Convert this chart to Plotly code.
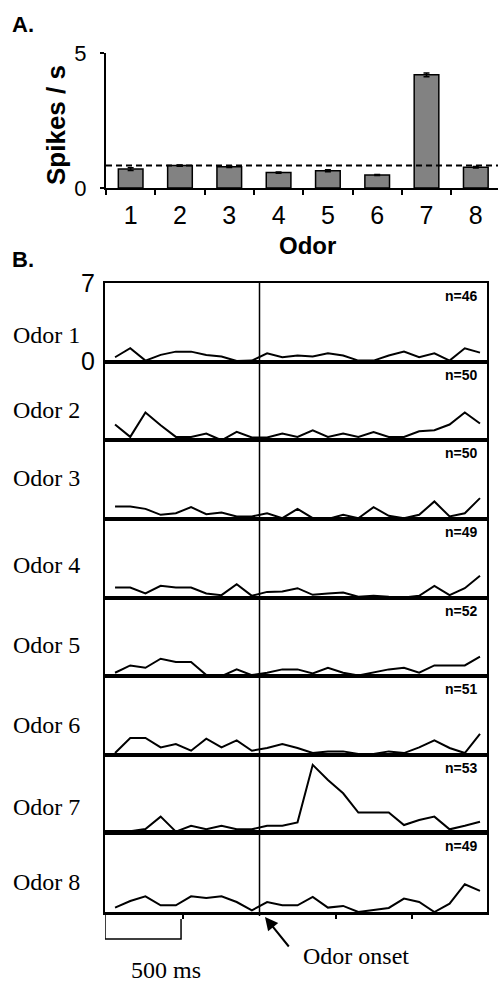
import plotly.graph_objects as go

# ---------------- data ----------------
odor_ids = [1, 2, 3, 4, 5, 6, 7, 8]
odor_tick_labels = ["1", "2", "3", "4", "5", "6", "7", "8"]
mean_rates = [0.70, 0.83, 0.79, 0.57, 0.64, 0.48, 4.19, 0.77]
sem_rates = [0.05, 0.02, 0.03, 0.02, 0.04, 0.02, 0.07, 0.03]
baseline_rate = 0.83

n_trials = [46, 50, 50, 49, 52, 51, 53, 49]
odor_names = ["Odor 1", "Odor 2", "Odor 3", "Odor 4", "Odor 5", "Odor 6", "Odor 7", "Odor 8"]

bin_centers_ms = [-950, -850, -750, -650, -550, -450, -350, -250, -150, -50,
                  50, 150, 250, 350, 450, 550, 650, 750, 850, 950,
                  1050, 1150, 1250, 1350, 1450]

psth1 = [0.39, 1.19, 0.09, 0.60, 0.89, 0.89, 0.60, 0.45, 0.06, 0.09, 0.74, 0.39, 0.54, 0.45, 0.74, 0.54, 0.09, 0.09, 0.54, 0.89, 0.39, 0.74, 0.09, 1.19, 0.80]
psth2 = [1.40, 0.30, 2.47, 1.34, 0.30, 0.30, 0.60, 0.00, 0.74, 0.24, 0.24, 0.60, 0.30, 0.89, 0.30, 0.60, 0.30, 0.74, 0.30, 0.30, 0.80, 0.89, 1.40, 2.47, 1.49]
psth3 = [1.10, 1.10, 0.89, 0.36, 0.50, 1.04, 0.42, 0.57, 0.21, 0.21, 0.50, 0.06, 0.89, 0.06, 0.00, 0.36, 0.06, 1.04, 0.27, 0.06, 0.36, 1.55, 0.21, 0.50, 1.85]
psth4 = [0.89, 0.89, 0.36, 1.04, 0.89, 0.89, 0.36, 0.21, 1.19, 0.15, 0.50, 0.54, 0.83, 0.24, 0.36, 0.45, 0.06, 0.15, 0.06, 0.00, 0.15, 1.04, 0.21, 0.83, 1.93]
psth5 = [0.30, 0.95, 0.74, 1.55, 1.25, 1.25, 0.09, 0.00, 0.60, 0.09, 0.30, 0.60, 0.60, 0.24, 0.74, 0.30, 0.06, 0.30, 0.60, 0.74, 0.30, 0.95, 0.95, 0.95, 1.73]
psth6 = [0.15, 1.49, 1.49, 0.65, 0.95, 0.36, 1.43, 0.65, 1.28, 0.36, 0.60, 0.95, 0.60, 0.15, 0.30, 0.30, 0.06, 0.06, 0.30, 0.15, 0.65, 1.28, 0.60, 0.15, 1.85]
psth7 = [0.00, 0.21, 0.39, 1.49, 0.15, 0.68, 0.36, 0.68, 0.36, 0.36, 0.68, 0.68, 0.98, 6.10, 4.76, 3.57, 1.85, 1.85, 1.85, 0.74, 1.19, 1.49, 0.36, 0.68, 1.04]
psth8 = [0.39, 0.98, 1.40, 0.60, 0.60, 1.40, 1.25, 1.40, 0.89, 0.15, 0.89, 0.60, 0.60, 1.34, 0.39, 0.54, 0.00, 0.21, 0.36, 1.19, 0.89, 0.00, 0.74, 2.47, 1.88]
psths = [psth1, psth2, psth3, psth4, psth5, psth6, psth7, psth8]

# ---------------- layout helpers ----------------
W, H = 498, 984
SANS = "Liberation Sans, Arial, sans-serif"
SERIF = "Liberation Serif, Times New Roman, serif"


def px(x):
    return x / W


def py(y):
    return 1 - y / H


fig = go.Figure()

# ---------------- panel A ----------------
fig.add_trace(go.Bar(
    x=odor_ids, y=mean_rates,
    marker=dict(color="#828282", line=dict(color="black", width=1.5)),
    width=0.5,
    error_y=dict(type="data", array=sem_rates, color="black", thickness=1.5, width=3),
    xaxis="x", yaxis="y", showlegend=False,
))

layout = dict(
    width=W, height=H,
    margin=dict(l=0, r=0, t=0, b=0, pad=0, autoexpand=False),
    paper_bgcolor="white", plot_bgcolor="white",
    showlegend=False,
    xaxis=dict(domain=[px(106), 1.0], range=[0.5, 8.45], anchor="y",
               tickvals=odor_ids, ticktext=odor_tick_labels,
               ticks="", showline=True, linecolor="black", linewidth=2,
               showgrid=False, zeroline=False, automargin=False,
               tickfont=dict(family=SANS, size=25, color="black"),
               ticklabelstandoff=4,
               minor=dict(tick0=0.5, dtick=1, ticks="outside", ticklen=5,
                          tickwidth=1.5, tickcolor="black", showgrid=False)),
    yaxis=dict(domain=[py(188), py(53)], range=[0, 5], anchor="x",
               tickvals=[0, 5], ticks="outside", ticklen=4, tickwidth=1.5,
               tickcolor="black", showline=True, linecolor="black", linewidth=2,
               showgrid=False, zeroline=False, ticklabelstandoff=9, automargin=False,
               tickfont=dict(family=SANS, size=22, color="black")),
)

shapes = [dict(type="line", xref="paper", yref="y", x0=px(106), x1=1.0,
               y0=baseline_rate, y1=baseline_rate,
               line=dict(color="black", width=2, dash="6px,4px"))]

annotations = [
    dict(text="<b>A.</b>", x=px(10), y=py(25), xref="paper", yref="paper",
         xanchor="left", yanchor="middle", showarrow=False,
         font=dict(family=SANS, size=22, color="black")),
    dict(text="<b>Spikes / s</b>", x=px(56), y=py(125), xref="paper", yref="paper",
         xanchor="center", yanchor="middle", showarrow=False, textangle=-90,
         font=dict(family=SANS, size=26, color="black")),
    dict(text="<b>Odor</b>", x=px(307), y=py(245), xref="paper", yref="paper",
         xanchor="center", yanchor="middle", showarrow=False,
         font=dict(family=SANS, size=24, color="black")),
    dict(text="<b>B.</b>", x=px(10), y=py(260), xref="paper", yref="paper",
         xanchor="left", yanchor="middle", showarrow=False,
         font=dict(family=SANS, size=22, color="black")),
]

# ---------------- panel B ----------------
top, bottom = 283.0, 912.0
ph = (bottom - top) / 8
xrange_ms = [-1016, 1496]
label_y = [335, 410, 478, 565, 645, 725, 807, 882]

for i in range(8):
    k = i + 2
    xa, ya = f"x{k}", f"y{k}"
    t = top + i * ph
    b = t + ph
    fig.add_trace(go.Scatter(
        x=bin_centers_ms, y=psths[i], mode="lines",
        line=dict(color="black", width=2),
        xaxis=xa, yaxis=ya, showlegend=False, cliponaxis=False,
    ))
    last = (i == 7)
    layout[f"xaxis{k}"] = dict(
        domain=[px(105), px(487)], range=xrange_ms, anchor=ya,
        showline=True, mirror=True, linecolor="black",
        linewidth=3 if last else 1.5, automargin=False,
        showgrid=False, zeroline=False, showticklabels=False,
        tickvals=[-500, 500, 1000] if last else [],
        ticks="outside" if last else "", ticklen=4, tickwidth=1.5, tickcolor="black",
    )
    layout[f"yaxis{k}"] = dict(
        domain=[py(b), py(t)], range=[0, 7], anchor=xa,
        showline=True, mirror=True, linecolor="black", linewidth=2,
        showgrid=False, zeroline=False, automargin=False,
        tickvals=[0, 7] if i == 0 else [], ticks="",
        showticklabels=(i == 0), ticklabelstandoff=3,
        tickfont=dict(family=SANS, size=25, color="black"),
    )
    annotations.append(dict(
        text=odor_names[i], x=px(11), y=py(label_y[i]), xref="paper", yref="paper",
        xanchor="left", yanchor="middle", showarrow=False,
        font=dict(family=SERIF, size=24, color="black")))
    annotations.append(dict(
        text=f"<b>n={n_trials[i]}</b>", x=px(480), y=py(t + 13), xref="paper", yref="paper",
        xanchor="right", yanchor="middle", showarrow=False,
        font=dict(family=SANS, size=14, color="black")))

# odor onset line spanning all PSTH panels
shapes.append(dict(type="line", xref="x2", yref="paper", x0=0, x1=0,
                   y0=py(916), y1=py(top), line=dict(color="black", width=1.5)))

# 500 ms scale bar
sb0, sb1 = xrange_ms[0], xrange_ms[0] + 500
shapes.append(dict(type="path", xref="x9", yref="paper",
                   path=f"M {sb0},{py(915)} L {sb0},{py(939)} L {sb1},{py(939)} L {sb1},{py(919)}",
                   line=dict(color="black", width=1.5)))

annotations.append(dict(text="500 ms", x=px(166), y=py(970), xref="paper", yref="paper",
                        xanchor="center", yanchor="middle", showarrow=False,
                        font=dict(family=SERIF, size=24, color="black")))
annotations.append(dict(text="Odor onset", x=px(301), y=py(956), xref="paper", yref="paper",
                        xanchor="left", yanchor="middle", showarrow=False,
                        font=dict(family=SERIF, size=24, color="black")))
annotations.append(dict(text="", x=px(265), y=py(917), xref="paper", yref="paper",
                        showarrow=True, ax=25, ay=31, arrowhead=2, arrowsize=1.3,
                        arrowwidth=2, arrowcolor="black"))

layout["shapes"] = shapes
layout["annotations"] = annotations
fig.update_layout(**layout)

fig.write_html(
    "out.html",
    config={"displayModeBar": False},
    post_script="document.documentElement.style.margin='0';document.body.style.margin='0';"
                "document.body.style.overflow='hidden';",
)
